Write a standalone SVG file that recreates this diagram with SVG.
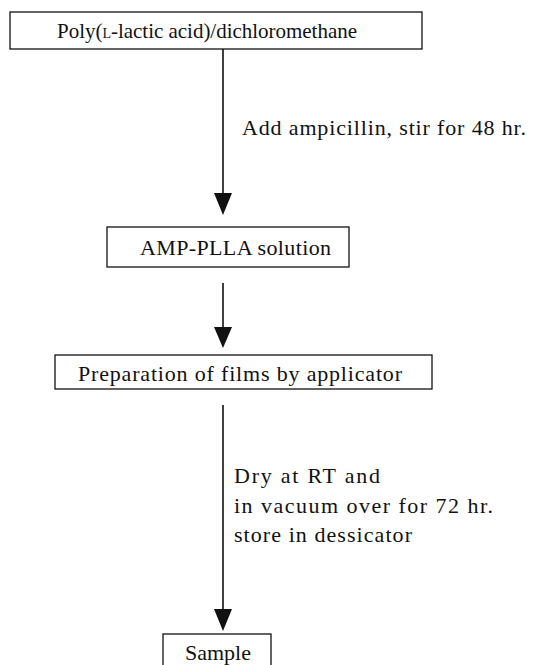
<svg xmlns="http://www.w3.org/2000/svg" width="535" height="665" viewBox="0 0 535 665">
<defs>
<style>
.box{fill:#fff;stroke:#111;stroke-width:1.3}
.t{font-family:"Liberation Serif","Times New Roman",serif;font-size:22px;fill:#111}
.ln{stroke:#111;stroke-width:1.6;fill:none}
.ah{fill:#111}
</style>
</defs>
<rect width="535" height="665" fill="#fff"/>
<g id="connectors">
<line class="ln" x1="223" y1="49" x2="223" y2="194"/>
<path class="ah" d="M214,193 L232,193 L223,215 Z"/>
<line class="ln" x1="223" y1="283" x2="223" y2="328"/>
<path class="ah" d="M214,327 L232,327 L223,348 Z"/>
<line class="ln" x1="223" y1="405" x2="223" y2="610"/>
<path class="ah" d="M214,609 L232,609 L223,631 Z"/>
<text class="t" x="242" y="135" textLength="284" lengthAdjust="spacing">Add ampicillin, stir for 48 hr.</text>
<text class="t" x="234" y="483" textLength="146" lengthAdjust="spacing">Dry at RT and</text>
<text class="t" x="234" y="513" textLength="259" lengthAdjust="spacing">in vacuum over for 72 hr.</text>
<text class="t" x="234" y="542" textLength="178" lengthAdjust="spacing">store in dessicator</text>
</g>
<g id="node1">
<rect class="box" x="10" y="12" width="412" height="37"/>
<text class="t" x="57" y="38" style="font-size:21px" textLength="300" lengthAdjust="spacing">Poly(<tspan font-size="14">L</tspan>-lactic acid)/dichloromethane</text>
</g>
<g id="node2">
<rect class="box" x="107" y="227" width="242" height="40"/>
<text class="t" x="140" y="255" textLength="191" lengthAdjust="spacing">AMP-PLLA solution</text>
</g>
<g id="node3">
<rect class="box" x="55" y="355" width="377" height="34"/>
<text class="t" x="78" y="381" textLength="324" lengthAdjust="spacing">Preparation of films by applicator</text>
</g>
<g id="node4">
<rect class="box" x="163" y="634" width="108" height="40"/>
<text class="t" x="185" y="660" textLength="66" lengthAdjust="spacing">Sample</text>
</g>
</svg>
